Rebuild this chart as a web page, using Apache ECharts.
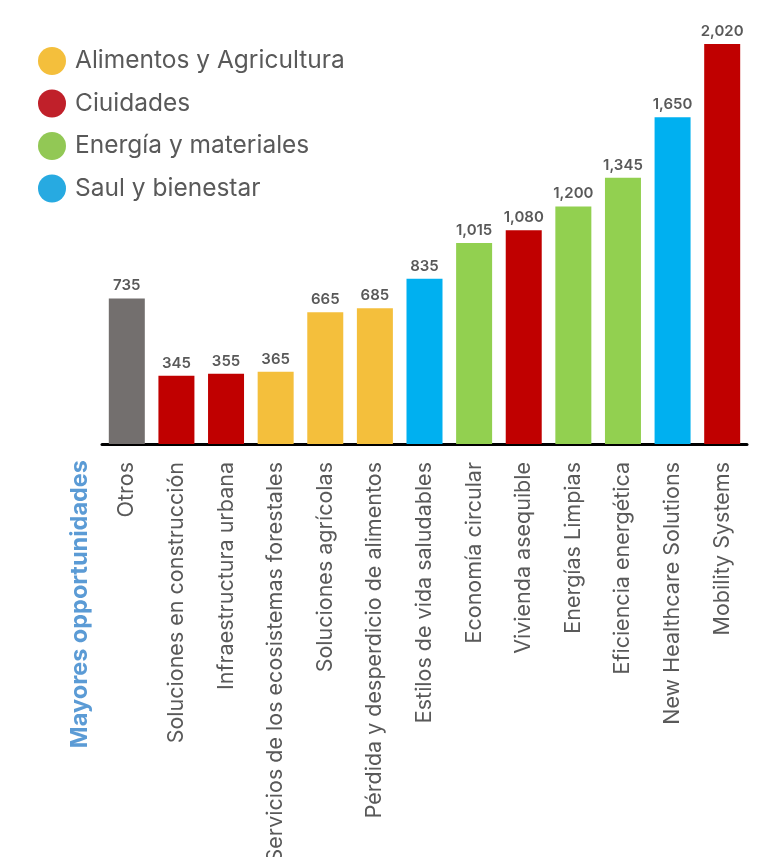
<!DOCTYPE html>
<html><head><meta charset="utf-8">
<script src="https://cdn.jsdelivr.net/npm/echarts@6/dist/echarts.min.js"></script>
<style>html,body{margin:0;padding:0;background:#fff}#c{width:763px;height:857px}</style>
</head><body><div id="c"></div>
<script>
const categories = ["Otros","Soluciones en construcción","Infraestructura urbana","Servicios de los ecosistemas forestales","Soluciones agrícolas","Pérdida y desperdicio de alimentos","Estilos de vida saludables","Economía circular","Vivienda asequible","Energías Limpias","Eficiencia energética","New Healthcare Solutions","Mobility Systems"];
const values = [735,345,355,365,665,685,835,1015,1080,1200,1345,1650,2020];
const groupOf = ["otros","ciudades","ciudades","alimentos","alimentos","alimentos","salud","energia","ciudades","energia","energia","salud","ciudades"];
const groups = ["otros","alimentos","ciudades","energia","salud"];
const groupNames = {otros:"Otros", alimentos:"Alimentos y Agricultura", ciudades:"Ciuidades", energia:"Energía y materiales", salud:"Saul y bienestar"};
const barColors = {otros:"#736f6e", alimentos:"#f4bf3c", ciudades:"#c00000", energia:"#92d050", salud:"#00b0f0"};
const legendColors = {alimentos:"#f4bf3c", ciudades:"#c0202a", energia:"#92c855", salud:"#27aae1"};
const axisTitle = "Mayores opportunidades";

const fmt = v => v.toLocaleString('en-US');
const series = groups.map(g => ({
  name: groupNames[g], type: 'bar', stack: 'all', barWidth: 36,
  itemStyle: {color: barColors[g]},
  data: values.map((v,i) => groupOf[i] === g ? v : '-'),
  label: {show: true, position: 'top', distance: 5, formatter: p => fmt(p.value),
    fontFamily: 'Inter', fontWeight: 600, fontSize: 15, color: '#595959'}
}));

const chart = echarts.init(document.getElementById('c'));
chart.setOption({
  animation: false,
  grid: {left: 102, right: 16, top: 44, bottom: 413, containLabel: false, outerBoundsMode: 'none'},
  legend: {
    left: 33, top: 42, orient: 'vertical', icon: 'circle',
    itemWidth: 28, itemHeight: 28, itemGap: 14.5,
    textStyle: {fontFamily: 'Inter', fontSize: 24.5, color: '#595959', padding: [0,0,0,4]},
    data: ["alimentos","ciudades","energia","salud"].map(g => ({name: groupNames[g], itemStyle: {color: legendColors[g]}}))
  },
  xAxis: {
    type: 'category', data: categories,
    axisLine: {lineStyle: {color: '#000', width: 3}},
    axisTick: {show: false},
    axisLabel: {rotate: 90, margin: 18, fontFamily: 'Inter', fontSize: 21.5, color: '#595959', interval: 0}
  },
  yAxis: {type: 'value', min: 0, max: 2020, show: false, splitLine: {show: false}},
  graphic: [{
    type: 'text', x: 80, y: 460, rotation: Math.PI/2,
    style: {text: axisTitle, fill: '#5b9bd5', font: 'bold 23.5px Inter', textAlign: 'right', textVerticalAlign: 'middle'}
  }],
  series: series
});
</script></body></html>
